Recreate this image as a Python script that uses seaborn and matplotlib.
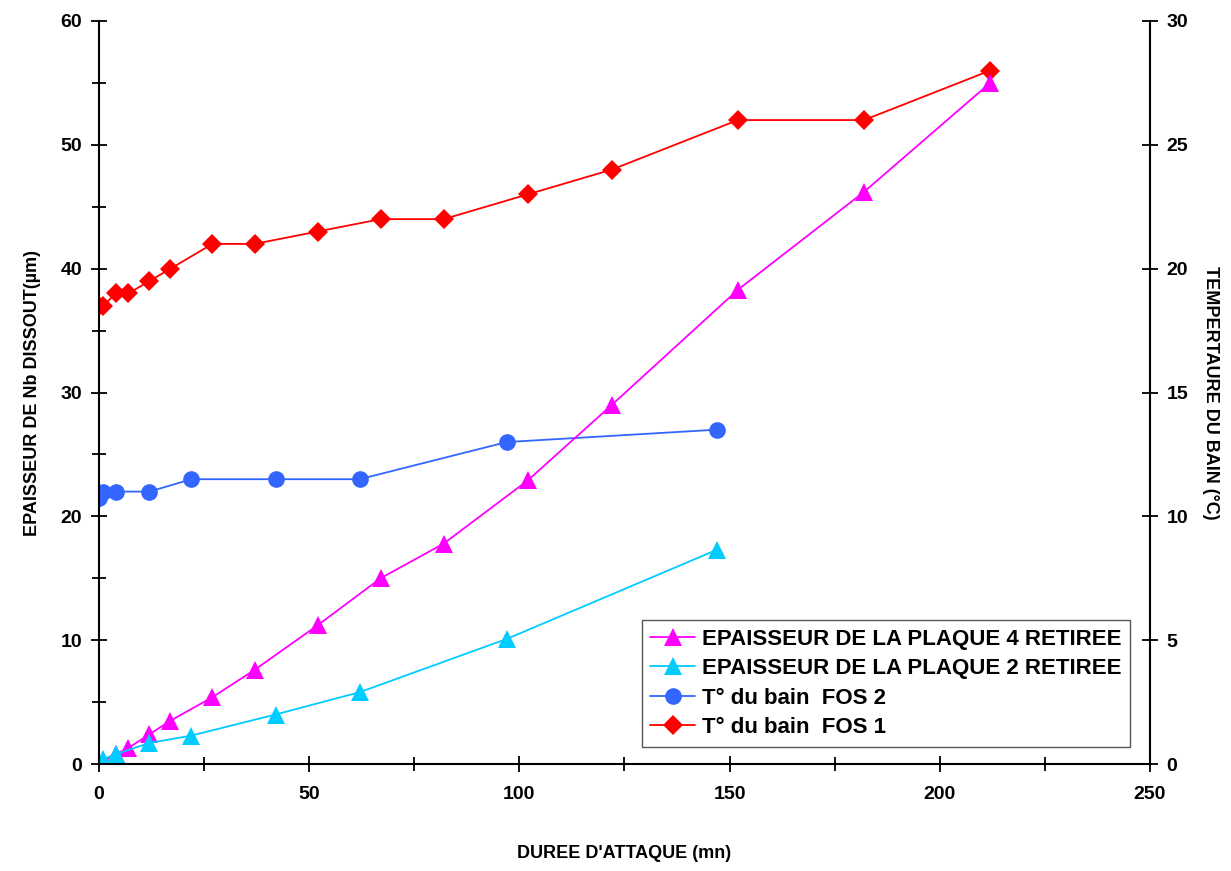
import pandas as pd
import seaborn as sns
import matplotlib.pyplot as plt
from matplotlib.ticker import MultipleLocator

# epaisseur dissoute (um) - axe gauche
t_plaque4 = [0, 4, 7, 12, 17, 27, 37, 52, 67, 82, 102, 122, 152, 182, 212]
ep_plaque4 = [0, 0.8, 1.3, 2.4, 3.5, 5.4, 7.6, 11.2, 15.0, 17.8, 22.9, 29.0, 38.3, 46.2, 55.0]

t_plaque2 = [0, 1, 4, 12, 22, 42, 62, 97, 147]
ep_plaque2 = [0, 0.4, 0.8, 1.7, 2.3, 4.0, 5.8, 10.1, 17.3]

# temperature du bain (degC) - axe droit
t_fos2 = [0, 1, 4, 12, 22, 42, 62, 97, 147]
temp_fos2 = [10.75, 11, 11, 11, 11.5, 11.5, 11.5, 13, 13.5]

t_fos1 = [0, 1, 4, 7, 12, 17, 27, 37, 52, 67, 82, 102, 122, 152, 182, 212]
temp_fos1 = [18.5, 18.5, 19, 19, 19.5, 20, 21, 21, 21.5, 22, 22, 23, 24, 26, 26, 28]

labels = ['EPAISSEUR DE LA PLAQUE 4 RETIREE', 'EPAISSEUR DE LA PLAQUE 2 RETIREE',
          'T° du bain  FOS 2', 'T° du bain  FOS 1']
colors = ['#FF00FF', '#00CCFF', '#3366FF', '#FF0000']


def main():
    sns.set_style('ticks')
    plt.rcParams['font.family'] = ['Liberation Sans', 'DejaVu Sans']
    plt.rcParams['font.weight'] = 'bold'
    for k in ('text.color', 'axes.labelcolor', 'xtick.color', 'ytick.color',
              'xtick.labelcolor', 'ytick.labelcolor'):
        plt.rcParams[k] = 'black'

    fig = plt.figure(figsize=(12.31, 8.71), dpi=100)
    ax = fig.add_axes([0.0804, 0.1228, 0.8537, 0.8531])
    ax2 = ax.twinx()

    lw = 1.3
    sns.lineplot(x=t_plaque4, y=ep_plaque4, ax=ax, color=colors[0], marker='^',
                 markersize=13, markeredgewidth=0, linewidth=lw, label=labels[0])
    sns.lineplot(x=t_plaque2, y=ep_plaque2, ax=ax, color=colors[1], marker='^',
                 markersize=13, markeredgewidth=0, linewidth=lw, label=labels[1])
    sns.lineplot(x=t_fos2, y=temp_fos2, ax=ax2, color=colors[2], marker='o',
                 markersize=12, markeredgewidth=0, linewidth=lw, label=labels[2])
    sns.lineplot(x=t_fos1, y=temp_fos1, ax=ax2, color=colors[3], marker='D',
                 markersize=10, markeredgewidth=0, linewidth=lw, label=labels[3])

    # put the left axis on top so the triangles sit over the diamonds
    ax.set_zorder(ax2.get_zorder() + 1)
    ax.patch.set_visible(False)

    ax.set_xlim(0, 250)
    ax.set_ylim(0, 60)
    ax2.set_ylim(0, 30)
    ax.xaxis.set_major_locator(MultipleLocator(50))
    ax.xaxis.set_minor_locator(MultipleLocator(25))
    ax.yaxis.set_major_locator(MultipleLocator(10))
    ax.yaxis.set_minor_locator(MultipleLocator(5))
    ax2.yaxis.set_major_locator(MultipleLocator(5))

    for a in (ax, ax2):
        a.tick_params(which='major', direction='inout', length=12, width=1.3,
                      labelsize=14, pad=6, colors='black')
        a.tick_params(which='minor', direction='inout', length=10, width=1.3, colors='black')
        for s in a.spines.values():
            s.set_linewidth(1.5)
            s.set_color('black')
        a.spines['top'].set_visible(False)
        for lab in a.get_xticklabels() + a.get_yticklabels():
            lab.set_fontweight('bold')
    ax.spines['right'].set_visible(False)
    ax2.spines['left'].set_visible(False)
    ax2.spines['bottom'].set_visible(False)
    ax.tick_params(axis='x', pad=10)

    ax.set_xlabel("DUREE D'ATTAQUE (mn)", fontsize=13, fontweight='bold', labelpad=30)
    ax.set_ylabel('EPAISSEUR DE Nb DISSOUT(µm)', fontsize=13, fontweight='bold', labelpad=14)
    ax2.set_ylabel('TEMPERTAURE DU BAIN (°C)', fontsize=13, fontweight='bold',
                   rotation=-90, labelpad=22)

    h1, l1 = ax.get_legend_handles_labels()
    h2, l2 = ax2.get_legend_handles_labels()
    ax2.get_legend().remove()
    ax.get_legend().remove()
    leg = ax.legend(h1 + h2, l1 + l2, loc='lower right', bbox_to_anchor=(0.981, 0.023),
                    borderaxespad=0, frameon=True, fancybox=False, edgecolor='#555555',
                    framealpha=1, prop={'size': 16, 'weight': 'bold'}, handlelength=2.0,
                    handletextpad=0.3, labelspacing=0.38, borderpad=0.4)
    leg.get_frame().set_linewidth(1.0)

    fig.savefig('out.png', dpi=100)
    plt.close(fig)


if __name__ == "__main__":
    main()
